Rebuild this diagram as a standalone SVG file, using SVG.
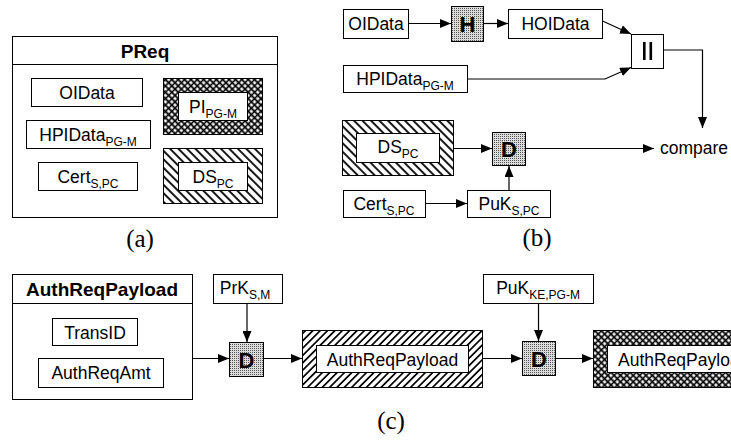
<svg xmlns="http://www.w3.org/2000/svg" width="731" height="440" viewBox="0 0 731 440">
<style>
.bx{fill:#fff;stroke:#000;stroke-width:1}
.op{fill:url(#stip);stroke:#000;stroke-width:1}
.t{font-family:"Liberation Sans",Arial,sans-serif;font-size:17.5px;fill:#000;text-anchor:middle}
.s{font-size:12px}
.b{font-family:"Liberation Sans",Arial,sans-serif;font-weight:bold;font-size:19px;fill:#000;text-anchor:middle}
.bo{font-family:"Liberation Sans",Arial,sans-serif;font-weight:bold;font-size:22px;fill:#000;text-anchor:middle}
.lab{font-family:"Liberation Serif","Times New Roman",serif;font-size:25px;fill:#000;text-anchor:middle}
.ln{fill:none;stroke:#000;stroke-width:1.2}
.ar{fill:none;stroke:#000;stroke-width:1.2;marker-end:url(#ah)}
</style>
<defs>
<marker id="ah" markerUnits="userSpaceOnUse" markerWidth="11" markerHeight="9" refX="11" refY="4.5" orient="auto">
<path d="M0,0 L11,4.5 L0,9 z" fill="#000"/>
</marker>
<pattern id="stip" patternUnits="userSpaceOnUse" width="2" height="2">
<rect width="2" height="2" fill="#dcdcdc"/>
<rect width="1" height="1" fill="#555"/>
</pattern>
<pattern id="xh" patternUnits="userSpaceOnUse" width="4.5" height="4.5" patternTransform="rotate(45)">
<rect width="4.5" height="4.5" fill="#fff"/>
<path d="M0,2.25 H4.5 M2.25,0 V4.5" stroke="#000" stroke-width="1.6"/>
</pattern>
<pattern id="bs" patternUnits="userSpaceOnUse" width="6" height="6" patternTransform="rotate(-45)">
<rect width="6" height="6" fill="#fff"/>
<path d="M3,0 V6" stroke="#000" stroke-width="1.8"/>
</pattern>
<pattern id="fs" patternUnits="userSpaceOnUse" width="5.2" height="5.2" patternTransform="rotate(45)">
<rect width="5.2" height="5.2" fill="#fff"/>
<path d="M2.6,0 V5.2" stroke="#000" stroke-width="1.7"/>
</pattern>
</defs>
<rect width="731" height="440" fill="#fff"/>

<!-- (a) -->
<g id="a-preq">
<rect class="bx" x="12.5" y="36.5" width="265" height="181"/>
<line class="ln" x1="12.5" y1="64.5" x2="277.5" y2="64.5" style="stroke-width:1"/>
<text class="b" x="145" y="58">PReq</text>
</g>
<g id="a-oidata"><rect class="bx" x="31.5" y="78.5" width="111" height="28"/><text class="t" x="87" y="98.5">OIData</text></g>
<g id="a-hpidata"><rect class="bx" x="26.5" y="120.5" width="124" height="28"/><text class="t" x="88" y="140.5">HPIData<tspan class="s" dy="5">PG-M</tspan></text></g>
<g id="a-cert"><rect class="bx" x="38.5" y="162.5" width="99" height="28"/><text class="t" x="88" y="182.5">Cert<tspan class="s" dy="5">S,PC</tspan></text></g>
<g id="a-pi"><rect x="163.5" y="78.5" width="99" height="56" fill="url(#xh)" stroke="#000"/><rect class="bx" x="178.5" y="92.5" width="69" height="28"/><text class="t" x="213" y="112.5">PI<tspan class="s" dy="5">PG-M</tspan></text></g>
<g id="a-ds"><rect x="163.5" y="148.5" width="99" height="55" fill="url(#bs)" stroke="#000"/><rect class="bx" x="178.5" y="162.5" width="69" height="28"/><text class="t" x="213" y="182.5">DS<tspan class="s" dy="5">PC</tspan></text></g>
<text class="lab" x="140" y="247">(a)</text>

<!-- (b) -->
<g id="b-oidata"><rect class="bx" x="343.5" y="9.5" width="65" height="29"/><text class="t" x="376" y="30">OIData</text></g>
<g id="b-h"><rect class="op" x="451.5" y="6.5" width="32" height="35"/><text class="bo" x="467.5" y="31.5">H</text></g>
<g id="b-hoidata"><rect class="bx" x="508.5" y="9.5" width="94" height="29"/><text class="t" x="555.5" y="30">HOIData</text></g>
<g id="b-concat"><rect class="bx" x="631.5" y="34.5" width="32" height="34"/><rect x="643" y="42" width="2.6" height="18" fill="#000"/><rect x="649.5" y="42" width="2.6" height="18" fill="#000"/></g>
<g id="b-hpidata"><rect class="bx" x="343.5" y="65.5" width="124" height="27"/><text class="t" x="405" y="85">HPIData<tspan class="s" dy="5">PG-M</tspan></text></g>
<g id="b-ds"><rect x="342.5" y="120.5" width="111" height="55" fill="url(#bs)" stroke="#000"/><rect class="bx" x="356.5" y="133.5" width="83" height="29"/><text class="t" x="398" y="153">DS<tspan class="s" dy="5">PC</tspan></text></g>
<g id="b-d"><rect class="op" x="492.5" y="132.5" width="33" height="33"/><text class="bo" x="509" y="157">D</text></g>
<g id="b-cert"><rect class="bx" x="343.5" y="190.5" width="82" height="27"/><text class="t" x="384" y="210">Cert<tspan class="s" dy="5">S,PC</tspan></text></g>
<g id="b-puk"><rect class="bx" x="467.5" y="190.5" width="83" height="27"/><text class="t" x="509" y="210">PuK<tspan class="s" dy="5">S,PC</tspan></text></g>
<text class="t" x="660" y="154" style="text-anchor:start">compare</text>
<text class="lab" x="537" y="246">(b)</text>

<!-- (c) -->
<g id="c-payload">
<rect class="bx" x="12.5" y="274.5" width="180" height="125"/>
<line class="ln" x1="12.5" y1="303.5" x2="192.5" y2="303.5" style="stroke-width:1"/>
<text class="b" x="102" y="296">AuthReqPayload</text>
</g>
<g id="c-transid"><rect class="bx" x="52.5" y="318.5" width="85" height="27"/><text class="t" x="95" y="338.5">TransID</text></g>
<g id="c-amt"><rect class="bx" x="38.5" y="358.5" width="125" height="29"/><text class="t" x="101" y="379">AuthReqAmt</text></g>
<g id="c-prk"><rect class="bx" x="213.5" y="274.5" width="69" height="29"/><text class="t" x="245" y="294">PrK<tspan class="s" dy="5">S,M</tspan></text></g>
<g id="c-d1"><rect class="op" x="229.5" y="342.5" width="34" height="34"/><text class="bo" x="246.5" y="367.5">D</text></g>
<g id="c-signed"><rect x="302.5" y="330.5" width="180" height="57" fill="url(#fs)" stroke="#000"/><rect class="bx" x="316.5" y="345.5" width="152" height="27"/><text class="t" x="392.5" y="365.5">AuthReqPayload</text></g>
<g id="c-puk"><rect class="bx" x="483.5" y="274.5" width="110" height="29"/><text class="t" x="538" y="294">PuK<tspan class="s" dy="5">KE,PG-M</tspan></text></g>
<g id="c-d2"><rect class="op" x="522.5" y="341.5" width="33" height="34"/><text class="bo" x="539" y="366.5">D</text></g>
<g id="c-enc"><rect x="593.5" y="330.5" width="160" height="57" fill="url(#xh)" stroke="#000"/><rect class="bx" x="607.5" y="345.5" width="160" height="27"/><text class="t" x="618" y="365.5" style="text-anchor:start">AuthReqPayload</text></g>
<text class="lab" x="391" y="429">(c)</text>

<g id="connectors">
<line class="ar" x1="408.5" y1="23.5" x2="451" y2="23.5"/>
<line class="ar" x1="483.5" y1="23.5" x2="508" y2="23.5"/>
<line class="ar" x1="602.5" y1="21" x2="631" y2="34"/>
<polyline class="ar" points="467.5,79 605,79 631,67.5"/>
<polyline class="ar" points="663.5,50 702.5,50 702.5,128"/>
<line class="ar" x1="453.5" y1="148.5" x2="492" y2="148.5"/>
<line class="ar" x1="525.5" y1="148.5" x2="654" y2="148.5"/>
<line class="ar" x1="425.5" y1="203.5" x2="467" y2="203.5"/>
<line class="ar" x1="509" y1="190.5" x2="509" y2="166"/>
<line class="ar" x1="192.5" y1="358.5" x2="229" y2="358.5"/>
<line class="ar" x1="247" y1="303.5" x2="247" y2="342"/>
<line class="ar" x1="263.5" y1="358.5" x2="302" y2="358.5"/>
<line class="ar" x1="482.5" y1="358.5" x2="522" y2="358.5"/>
<line class="ar" x1="538.5" y1="303.5" x2="538.5" y2="341"/>
<line class="ar" x1="555.5" y1="358.5" x2="593" y2="358.5"/>
</g>
</svg>
